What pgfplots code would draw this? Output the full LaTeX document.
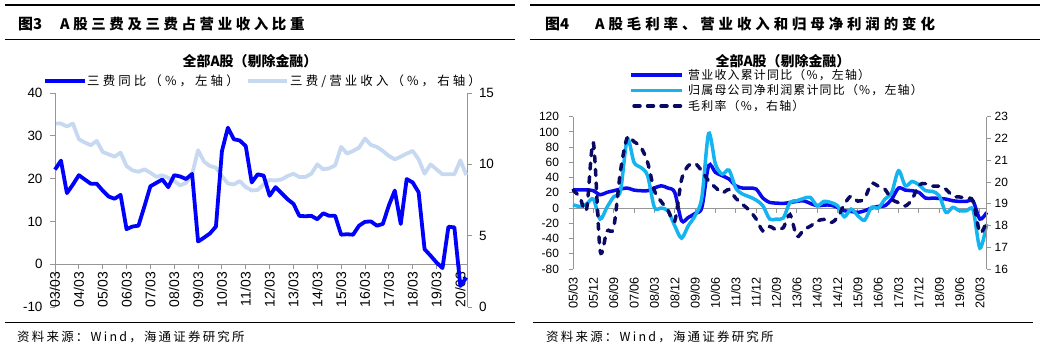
\documentclass[border=0pt]{standalone}
\usepackage{fontspec}
\setmainfont{Liberation Sans}
\newfontfamily\cjk{Noto Sans CJK SC}
\newfontfamily\cjkwide[LetterSpace=25]{Noto Sans CJK SC}
\newfontfamily\cjksrc[LetterSpace=18]{Noto Sans CJK SC}
\newfontfamily\cjkleg[LetterSpace=10]{Noto Sans CJK SC}
\newfontfamily\cjktitle[LetterSpace=27]{Noto Sans CJK SC}
\usepackage{pgfplots}
\pgfplotsset{compat=1.18}
\usepackage{pgfplotstable}

\definecolor{feeblue}{RGB}{0,0,255}
\definecolor{ratioblue}{RGB}{198,217,241}
\definecolor{revblue}{RGB}{10,10,240}
\definecolor{profitblue}{RGB}{20,180,240}
\definecolor{marginnavy}{RGB}{10,10,100}
\definecolor{axisgray}{RGB}{150,150,150}

% Three expenses: yoy growth (%) and share of revenue (%), quarterly from 2003Q1
\pgfplotstableread{
q fee ratio
0 22.1 12.86
1 24.2 12.86
2 16.6 12.65
3 18.6 12.86
4 20.8 11.76
5 19.8 11.53
6 18.8 11.34
7 18.8 11.64
8 17.2 10.87
9 15.8 10.70
10 15.3 10.54
11 16.2 10.82
12 8.2 9.88
13 8.8 9.58
14 9.0 9.48
15 13.5 9.65
16 18.2 9.41
17 19.0 9.13
18 19.8 9.23
19 18.0 9.06
20 20.8 8.83
21 20.5 8.52
22 19.9 8.71
23 21.1 9.30
24 5.3 10.99
25 6.2 10.19
26 7.2 9.88
27 8.8 9.77
28 26.4 9.18
29 31.9 8.66
30 29.2 8.59
31 28.9 8.83
32 27.6 8.40
33 19.1 8.17
34 21.0 8.20
35 20.7 8.59
36 16.0 8.90
37 18.0 8.87
38 16.6 8.94
39 15.2 9.18
40 14.1 9.34
41 11.3 9.11
42 11.2 9.11
43 11.3 9.34
44 10.5 10.00
45 11.9 9.65
46 11.3 9.72
47 11.3 9.93
48 6.9 11.22
49 7.0 10.75
50 6.9 10.94
51 9.0 11.17
52 9.9 11.81
53 10.0 11.36
54 9.0 11.22
55 9.4 10.94
56 13.7 10.59
57 17.2 10.35
58 9.4 10.54
59 19.9 10.75
60 19.1 10.94
61 16.8 10.35
62 3.5 9.34
63 2.0 10.00
64 0.4 9.65
65 -0.9 9.30
66 8.75 9.30
67 8.6 9.30
68 -5.1 10.28
69 -3.1 9.25
}\feedata

% Revenue and net profit cumulative yoy (%), gross margin (%), quarterly from 2005Q1
\pgfplotstableread{
q rev profit margin
0 24 4.4 19.63
1 24 2.2 19.3
2 24 5.3 18.75
3 22.8 11.8 21.8
4 17.5 -14.4 16.85
5 20.6 0.9 17.75
6 22.8 14.9 17.9
7 25 22.8 20.5
8 26.3 90.6 22.05
9 23.6 60 21.85
10 22.8 53.4 21.6
11 22.8 42.5 20.9
12 26.3 0.9 19.6
13 29.3 0 19.1
14 26.3 -3.5 18.7
15 20.6 -23.2 18.2
16 -16.6 -39.4 20.1
17 -12.3 -23.2 20.75
18 -7 -10 20.85
19 0.9 14 20.5
20 55.6 98 20.05
21 46.8 57.8 19.75
22 42.5 44.6 19.5
23 38.1 49.9 19.65
24 29.3 26.3 19.25
25 26.3 18.4 18.97
26 26.3 14.9 18.7
27 25 10.5 18.3
28 13.1 3 17.75
29 7.4 -14.4 17.95
30 6.6 -14.4 17.8
31 6.1 -13.1 17.9
32 7.4 7.4 18.5
33 8.8 9.6 17.5
34 9.6 12.7 17.8
35 6.1 14 17.97
36 3.1 3.1 18.2
37 3.9 8.8 18.28
38 3.9 7.4 18.13
39 0.9 3.1 18.36
40 -3.5 -11.4 18.97
41 -4.4 -1.3 19.35
42 -5.7 -10 19.12
43 -3.5 -15.8 19.25
44 0 0.9 19.92
45 2.2 0 19.81
46 3.1 11.8 19.66
47 11.8 20.6 19.2
48 26.3 49 19.05
49 23.6 29.3 18.9
50 22.8 35 19.2
51 20.6 30.6 19.86
52 13.1 22.8 19.92
53 13.1 21.9 19.81
54 12.7 16.2 19.81
55 11.8 -5.7 19.66
56 9.6 0.9 19.35
57 8.8 -3.5 19.31
58 8.8 -3.5 19.25
59 8.8 -2.6 19.12
60 -14.4 -52.5 17.67
61 -5.7 -21 18.2
}\growthdata

\pgfplotsset{
  panel/.style={
    scale only axis,
    axis line style={draw=axisgray, line width=0.9bp},
    tick style={draw=axisgray, line width=0.9bp},
    tick align=outside,
    major tick length=4.5bp,
    /pgf/number format/assume math mode=true,
    clip=false,
    hide obscured x ticks=false,
    hide obscured y ticks=false,
  },
}

\begin{document}
\begin{tikzpicture}
\path[use as bounding box] (0bp,0bp) rectangle (1049bp,-351bp);

% ---------------- left panel ----------------
\begin{axis}[panel, at={(55bp,-307bp)}, anchor=south west,
  width=412.5bp, height=214bp,
  ticklabel style={font=\fontsize{13.5}{15}\selectfont},
  yticklabel style={xshift=3.5bp},
  xmin=0, xmax=69.2, ymin=0, ymax=15, ytick={0,5,10,15},
  axis y line*=right, axis x line=none]
\addplot[ratioblue, line width=3.8bp, line join=round] table[x=q,y=ratio]{\feedata};
\end{axis}
\begin{axis}[panel, at={(55bp,-307bp)}, anchor=south west,
  width=412.5bp, height=214bp,
  ticklabel style={font=\fontsize{13.5}{15}\selectfont},
  yticklabel style={xshift=-4.5bp},
  xmin=0, xmax=69.2, ymin=-10, ymax=40, ytick={-10,0,...,40},
  axis y line*=left, axis x line*=middle,
  xtick={0,4,...,68},
  xticklabels={03/03,04/03,05/03,06/03,07/03,08/03,09/03,10/03,11/03,12/03,13/03,14/03,15/03,16/03,17/03,18/03,19/03,20/03},
  xticklabel style={rotate=90, anchor=east, font=\fontsize{14}{16}\selectfont}]
\addplot[feeblue, line width=3.8bp, line join=round] table[x=q,y=fee]{\feedata};
\end{axis}

% ---------------- right panel ----------------
\begin{axis}[panel, at={(573bp,-269bp)}, anchor=south west,
  width=413.7bp, height=152.3bp,
  ticklabel style={font=\fontsize{12}{14}\selectfont},
  yticklabel style={xshift=-6bp},
  xmin=0, xmax=61, ymin=-80, ymax=120, ytick={-80,-60,...,120},
  axis y line*=left, axis x line*=middle,
  xtick={0,3,...,60}, xticklabels={}]
\addplot[revblue, line width=3.5bp, smooth, tension=0.5] table[x=q,y=rev]{\growthdata};
\addplot[profitblue, line width=3.5bp, smooth, tension=0.5] table[x=q,y=profit]{\growthdata};
\end{axis}
\begin{axis}[panel, at={(573bp,-269bp)}, anchor=south west,
  width=413.7bp, height=152.3bp,
  ticklabel style={font=\fontsize{12}{14}\selectfont},
  xmin=0, xmax=61, ymin=16, ymax=23, ytick={16,...,23},
  axis y line*=right, axis x line*=bottom,
  x axis line style={draw=none}, xtick style={draw=none},
  xtick={0,3,...,60},
  xticklabels={05/03,05/12,06/09,07/06,08/03,08/12,09/09,10/06,11/03,11/12,12/09,13/06,14/03,14/12,15/09,16/06,17/03,17/12,18/09,19/06,20/03},
  xticklabel style={rotate=90, anchor=east, font=\fontsize{12.7}{14}\selectfont}]
\addplot[marginnavy, line width=3.5bp, smooth, tension=0.5, line cap=round,
  dash pattern=on 6bp off 7.5bp] table[x=q,y=margin]{\growthdata};
\end{axis}

% ---------------- frames, titles, legends ----------------
\draw[line width=1.1bp] (5bp,-5bp) -- (515bp,-5bp);
\draw[line width=1.1bp] (5bp,-39.3bp) -- (515bp,-39.3bp);
\draw[line width=1.1bp] (5bp,-322.7bp) -- (515bp,-322.7bp);
\draw[line width=1.1bp] (530bp,-5bp) -- (1040bp,-5bp);
\draw[line width=1.1bp] (530bp,-39.3bp) -- (1040bp,-39.3bp);
\draw[line width=1.1bp] (533bp,-322.7bp) -- (1033bp,-322.7bp);

\node[anchor=west, inner sep=0] at (18bp,-24bp) {\cjk\bfseries\fontsize{15}{17}\selectfont 图3};
\node[anchor=west, inner sep=0] at (60bp,-24bp) {\cjkwide\bfseries\fontsize{14.5}{17}\selectfont A股三费及三费占营业收入比重};
\node[anchor=west, inner sep=0] at (545bp,-24bp) {\cjk\bfseries\fontsize{15}{17}\selectfont 图4};
\node[anchor=west, inner sep=0] at (595bp,-24bp) {\cjktitle\bfseries\fontsize{14.5}{17}\selectfont A股毛利率、营业收入和归母净利润的变化};

\node[inner sep=0] at (250bp,-61bp) {\cjk\bfseries\fontsize{14}{16}\selectfont 全部A股（剔除金融）};
\node[inner sep=0] at (783bp,-61.5bp) {\cjk\bfseries\fontsize{14}{16}\selectfont 全部A股（剔除金融）};

% left legend
\draw[feeblue, line width=3.8bp] (45bp,-81bp) -- (85bp,-81bp);
\node[anchor=west, inner sep=0] at (87bp,-81bp) {\cjkwide\fontsize{12.5}{14}\selectfont 三费同比（\%，左轴）};
\draw[ratioblue, line width=3.8bp] (248bp,-81bp) -- (287bp,-81bp);
\node[anchor=west, inner sep=0] at (290bp,-81bp) {\cjkwide\fontsize{12.5}{14}\selectfont 三费/营业收入（\%，右轴）};

% right legend
\draw[revblue, line width=3.5bp] (631bp,-75bp) -- (682bp,-75bp);
\node[anchor=west, inner sep=0] at (688bp,-75bp) {\cjkleg\fontsize{12}{13}\selectfont 营业收入累计同比（\%，左轴）};
\draw[profitblue, line width=3.5bp] (631bp,-90.5bp) -- (682bp,-90.5bp);
\node[anchor=west, inner sep=0] at (688bp,-90.5bp) {\cjkleg\fontsize{12}{13}\selectfont 归属母公司净利润累计同比（\%，左轴）};
\draw[marginnavy, line width=3.5bp, line cap=round, dash pattern=on 6bp off 7.5bp] (634bp,-106bp) -- (682bp,-106bp);
\node[anchor=west, inner sep=0] at (688bp,-106bp) {\cjkleg\fontsize{12}{13}\selectfont 毛利率（\%，右轴）};

\node[anchor=west, inner sep=0] at (17bp,-337bp) {\cjksrc\fontsize{12.5}{14}\selectfont 资料来源：Wind，海通证券研究所};
\node[anchor=west, inner sep=0] at (546bp,-337bp) {\cjksrc\fontsize{12.5}{14}\selectfont 资料来源：Wind，海通证券研究所};
\end{tikzpicture}
\end{document}
